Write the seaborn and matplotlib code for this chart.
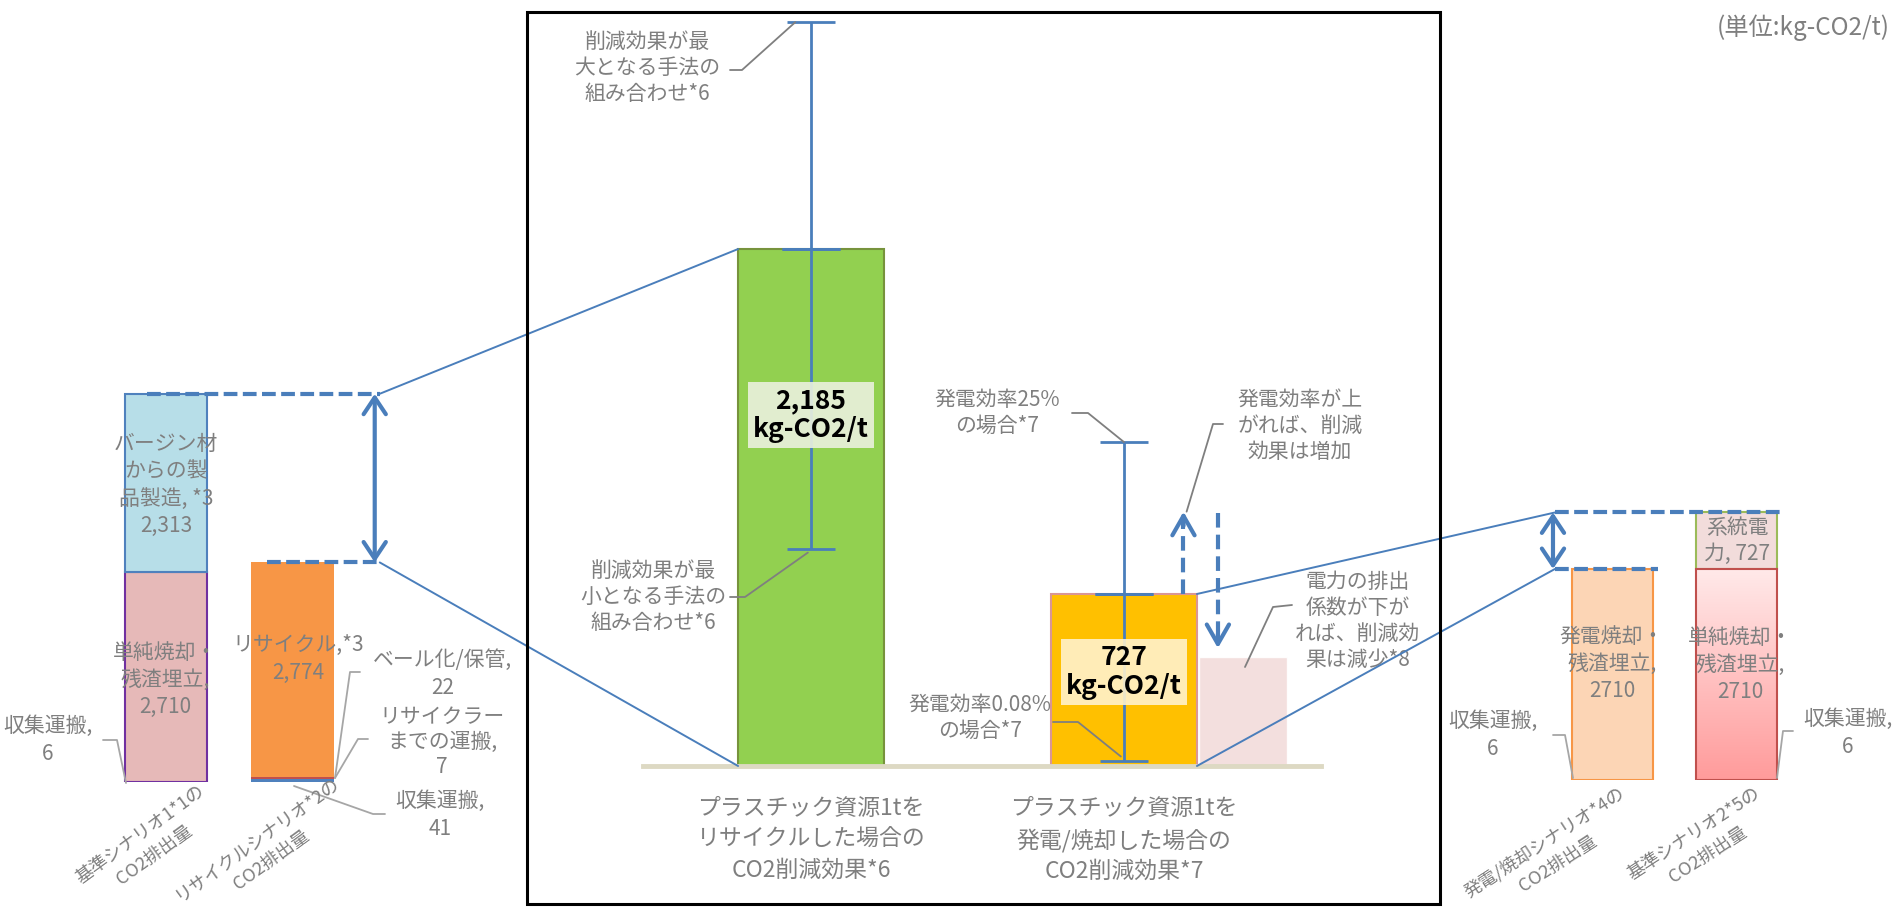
import numpy as np
import matplotlib
matplotlib.use("Agg")
import matplotlib.pyplot as plt
import seaborn as sns
from matplotlib.patches import ConnectionPatch, Rectangle
from matplotlib.colors import LinearSegmentedColormap

# ---------------- data (kg-CO2/t) ----------------
left_cats = ["基準シナリオ1*1の\nCO2排出量", "リサイクルシナリオ*2の\nCO2排出量"]
# stacked segments, bottom -> top
base1_seg = [6, 2710, 2313]        # 収集運搬 / 単純焼却・残渣埋立 / バージン材からの製品製造
recycle_seg = [41, 7, 22, 2774]    # 収集運搬 / リサイクラーまでの運搬 / ベール化/保管 / リサイクル

right_cats = ["発電/焼却シナリオ*4の\nCO2排出量", "基準シナリオ2*5の\nCO2排出量"]
power_seg = [6, 2710]              # 収集運搬 / 発電焼却・残渣埋立
base2_seg = [6, 2710, 727]         # 収集運搬 / 単純焼却・残渣埋立 / 系統電力

center_cats = ["プラスチック資源1tを\nリサイクルした場合の\nCO2削減効果*6",
               "プラスチック資源1tを\n発電/焼却した場合の\nCO2削減効果*7"]
center_vals = [2185, 727]
center_lo = [917, 20]       # 削減効果が最小 / 発電効率0.08%
center_hi = [3144, 1369]    # 削減効果が最大 / 発電効率25%
ghost_val = 461             # 電力の排出係数が下がった場合
arrow_up_tip = 1075
arrow_down = [1069, 498]

BLUE = "#4a7ebb"
GRAY = "#7f7f7f"
LGRAY = "#a6a6a6"

W, H = 1901, 923
sns.set_theme(style="white")
plt.rcParams["font.family"] = ["Noto Sans CJK JP", "DejaVu Sans"]

fig = plt.figure(figsize=(W / 100, H / 100), dpi=100)


def px_axes(x0, x1, ybase, ytop, c0, step, k):
    # axes placed in pixel units; c0 = pixel of category 0, step = px per category, k = px per unit
    ax = fig.add_axes([x0 / W, 1 - ybase / H, (x1 - x0) / W, (ybase - ytop) / H])
    ax.set_facecolor("none")
    return ax, ((x0 - c0) / step, (x1 - c0) / step), (0, (ybase - ytop) / k)


axL, xlimL, ylimL = px_axes(0, 527, 782, 12, 166, 126.5, 0.0772)
axC, xlimC, ylimC = px_axes(643, 1321, 766, 12, 811, 313, 0.2366)
axR, xlimR, ylimR = px_axes(1441, 1901, 780, 12, 1612.5, 124, 0.0777)


def stack(ax, cats, i, segs, faces, edges, lws, width=0.65):
    bottom = 0
    for v, fc, ec, lw in zip(segs, faces, edges, lws):
        sns.barplot(x=[cats[i]], y=[v], order=cats, bottom=bottom, color=fc,
                    saturation=1, edgecolor=ec, linewidth=lw, width=width,
                    errorbar=None, ax=ax)
        bottom += v
    return ax.patches[-len(segs):]


# left scenarios
stack(axL, left_cats, 0, base1_seg, ["#4f81bd", "#e6b9b8", "#b7dee8"],
      ["#7030a0", "#7030a0", "#4f81bd"], [1.5, 1.5, 1.5])
stack(axL, left_cats, 1, recycle_seg, ["#4f81bd", "#c0504d", "#c0504d", "#f79646"],
      ["#4f81bd", "#c0504d", "#c0504d", "#f79646"], [0, 0, 0, 0])

# right scenarios
stack(axR, right_cats, 0, power_seg, ["#f79646", "#fcd5b5"], ["#f79646", "#f79646"], [1.5, 1.5])
b4 = stack(axR, right_cats, 1, base2_seg, ["#c0504d", "#ffcccc", "#f2dcdb"],
           ["#c0504d", "#c0504d", "#9bbb59"], [1.5, 1.5, 1.5])
p = b4[1]
cmap = LinearSegmentedColormap.from_list("pinkfade", ["#ff9b9b", "#ffe9e9"])
im = axR.imshow(np.linspace(0, 1, 256).reshape(-1, 1), origin="lower", aspect="auto", cmap=cmap,
                extent=[p.get_x(), p.get_x() + p.get_width(), p.get_y(), p.get_y() + p.get_height()],
                zorder=p.get_zorder() + 0.05)
im.set_clip_path(p)
p.set_facecolor("none")
p.set_zorder(p.get_zorder() + 0.1)

# center: reduction effects
sns.barplot(x=center_cats, y=center_vals, hue=center_cats, palette=["#92d050", "#ffc000"],
            saturation=1, legend=False, width=0.466, errorbar=None, ax=axC)
for patch, ec in zip(axC.patches, ["#77933c", "#d99694"]):
    patch.set_edgecolor(ec)
    patch.set_linewidth(1.5)
axC.bar(1.38, ghost_val, width=0.281, color="#f2dcdb", alpha=0.9, zorder=0.8)

for i, (v, lo, hi) in enumerate(zip(center_vals, center_lo, center_hi)):
    axC.errorbar(i, v, yerr=[[v - lo], [hi - v]], fmt="none", ecolor=BLUE,
                 elinewidth=2, capsize=17, capthick=2, zorder=3)
    axC.errorbar(i, v, yerr=[[0], [0]], fmt="none", ecolor=BLUE, capsize=21, capthick=2, zorder=3)

# dashed arrows next to the power-generation bar
axC.plot([1.19, 1.19], [center_vals[1], arrow_up_tip - 40], ls=(0, (3.5, 1.7)), lw=3, color=BLUE)
axC.annotate("", xy=(1.19, arrow_up_tip), xytext=(1.19, arrow_up_tip - 60),
             arrowprops=dict(arrowstyle="->,head_length=0.7,head_width=0.4", color=BLUE, lw=3,
                             mutation_scale=20, shrinkA=0, shrinkB=0))
axC.plot([1.30, 1.30], [arrow_down[0], arrow_down[1] + 40], ls=(0, (3.5, 1.7)), lw=3, color=BLUE)
axC.annotate("", xy=(1.30, arrow_down[1]), xytext=(1.30, arrow_down[1] + 60),
             arrowprops=dict(arrowstyle="->,head_length=0.7,head_width=0.4", color=BLUE, lw=3,
                             mutation_scale=20, shrinkA=0, shrinkB=0))

# dashed level lines and double arrows
tot1, tot2 = sum(base1_seg), sum(recycle_seg)
tot3, tot4 = sum(power_seg), sum(base2_seg)
dash = (0, (3.3, 1.3))
axL.plot([-0.15, 1.69], [tot1, tot1], ls=dash, lw=3, color=BLUE, clip_on=False)
axL.plot([0.80, 1.69], [tot2, tot2], ls=dash, lw=3, color=BLUE, clip_on=False)
axL.annotate("", xy=(1.65, tot2), xytext=(1.65, tot1),
             arrowprops=dict(arrowstyle="<->,head_length=0.6,head_width=0.4", color=BLUE, lw=3,
                             mutation_scale=20, shrinkA=0, shrinkB=0))
axR.plot([-0.464, 1.37], [tot4, tot4], ls=dash, lw=3, color=BLUE, clip_on=False)
axR.plot([-0.464, 0.37], [tot3, tot3], ls=dash, lw=3, color=BLUE, clip_on=False)
axR.annotate("", xy=(-0.48, tot3), xytext=(-0.48, tot4),
             arrowprops=dict(arrowstyle="<->,head_length=0.6,head_width=0.4", color=BLUE, lw=3,
                             mutation_scale=20, shrinkA=0, shrinkB=0))

# axes cosmetics
for ax, xl, yl in [(axL, xlimL, ylimL), (axC, xlimC, ylimC), (axR, xlimR, ylimR)]:
    ax.set_xlim(*xl)
    ax.set_ylim(*yl)
    ax.set_xlabel("")
    ax.set_ylabel("")
    ax.set_yticks([])
    for s in ax.spines.values():
        s.set_visible(False)
axL.set_xticks([])
axR.set_xticks([])
axC.spines["bottom"].set_visible(True)
axC.spines["bottom"].set_color("#ddd9c3")
axC.spines["bottom"].set_linewidth(3.5)
axC.set_xticks([0, 1], center_cats)
axC.tick_params(axis="x", length=0, pad=22, labelsize=16.5, labelcolor=GRAY)
for t in axC.get_xticklabels():
    t.set_linespacing(1.45)

# connectors between the panels
for axA, xyA, axB, xyB in [
    (axL, (1.69, tot1), axC, (-0.233, center_vals[0])),
    (axL, (1.69, tot2), axC, (-0.233, 0)),
    (axC, (1.233, center_vals[1]), axR, (-0.464, tot4)),
    (axC, (1.233, 0), axR, (-0.464, tot3)),
]:
    fig.add_artist(ConnectionPatch(xyA=xyA, coordsA=axA.transData, xyB=xyB, coordsB=axB.transData,
                                   color=BLUE, lw=1.4))

fig.add_artist(Rectangle((527 / W, 1 - 904 / H), 913 / W, 892 / H, transform=fig.transFigure,
                         fill=False, ec="black", lw=2.2))

# overlay in pixel coordinates for labels and leader lines
ov = fig.add_axes([0, 0, 1, 1])
ov.set_xlim(0, W)
ov.set_ylim(H, 0)
ov.axis("off")
ov.patch.set_alpha(0)


def to_px(ax, x, y):
    px, py = ax.transData.transform((x, y))
    return px, H - py


def note(x, y, s, color=GRAY, size=15, ls=1.15, **kw):
    ov.text(x, y, s, ha="center", va="center", color=color, fontsize=size, linespacing=ls, **kw)


def leader(pts, color=GRAY, lw=1.3):
    xs, ys = zip(*pts)
    ov.plot(xs, ys, color=color, lw=lw)


ov.text(1890, 28, "(単位:kg-CO2/t)", ha="right", va="center", fontsize=17.5, color=GRAY)

# center annotations
note(647, 68, "削減効果が最\n大となる手法の\n組み合わせ*6", ls=1.25)
leader([(730, 70), (742, 70), to_px(axC, -0.05, center_hi[0])])
note(653, 597, "削減効果が最\n小となる手法の\n組み合わせ*6", ls=1.25)
leader([(730, 597), (745, 597), to_px(axC, -0.01, center_lo[0] - 15)])
note(997, 413, "発電効率25%\nの場合*7", ls=1.25)
leader([(1072, 413), (1088, 413), to_px(axC, 1, center_hi[1])])
note(980, 718, "発電効率0.08%\nの場合*7", ls=1.25)
leader([(1053, 722), (1078, 722), to_px(axC, 0.99, center_lo[1] + 20)])
note(1300, 426, "発電効率が上\nがれば、削減\n効果は増加", ls=1.25)
leader([(1223, 424), (1213, 424), to_px(axC, 1.20, arrow_up_tip)])
note(1358, 621, "電力の排出\n係数が下が\nれば、削減効\n果は減少*8", ls=1.25)
leader([(1292, 605), (1273, 607), (1245, 667)])

for i, (v, bg, y) in enumerate(zip(center_vals, ["#ebf1de", "#fff2cc"], [415, 672])):
    x, _ = to_px(axC, i, 0)
    ov.text(x, y, f"{v:,}\nkg-CO2/t", ha="center", va="center", fontsize=19, fontweight="bold",
            color="black", linespacing=1.05,
            bbox=dict(boxstyle="square,pad=0.2", fc=bg, ec="none", alpha=0.9))

# left segment labels
note(166, 485, "バージン材\nからの製\n品製造, *3\n2,313", ls=1.3)
note(165, 680, "単純焼却・\n残渣埋立,\n2,710", ls=1.3)
note(48, 740, "収集運搬,\n6", ls=1.3)
leader([(103, 740), (117, 740), (126, 783)], color=LGRAY)
note(298, 659, "リサイクル,*3\n2,774", ls=1.3)
note(443, 674, "ベール化/保管,\n22", ls=1.3)
leader([(360, 672), (350, 672), (335, 778)], color=LGRAY)
note(442, 742, "リサイクラー\nまでの運搬,\n7", ls=1.2)
leader([(368, 739), (358, 739), (335, 778)], color=LGRAY)
note(440, 815, "収集運搬,\n41", ls=1.3)
leader([(385, 814), (373, 814), (294, 786)], color=LGRAY)

# right segment labels
note(1737, 541, "系統電\n力, 727", ls=1.2)
note(1612, 664, "発電焼却・\n残渣埋立,\n2710", ls=1.3)
note(1740, 665, "単純焼却・\n残渣埋立,\n2710", ls=1.3)
note(1493, 735, "収集運搬,\n6", ls=1.3)
leader([(1553, 735), (1565, 735), (1573, 778)], color=LGRAY)
note(1848, 733, "収集運搬,\n6", ls=1.3)
leader([(1793, 731), (1783, 731), (1777, 778)], color=LGRAY)

# rotated scenario labels: each line drawn on its own so it stays inside the frame
renderer = fig.canvas.get_renderer()
LAB_FS = 13
for s, (x, y), rot in zip(left_cats + right_cats,
                          [(197, 782), (332, 774), (1618, 784), (1754, 784)],
                          [36, 36, 33, 33]):
    first, second = s.split("\n")
    tmp = ov.text(0, 0, first, fontsize=LAB_FS)
    w = tmp.get_window_extent(renderer).width
    tmp.remove()
    th = np.deg2rad(rot)
    cx, cy = x - w / 2 * np.cos(th), y + w / 2 * np.sin(th)
    ov.text(x, y, first, rotation=rot, rotation_mode="anchor", ha="right", va="top",
            fontsize=LAB_FS, color=GRAY)
    d = 25
    ov.text(cx + d * np.sin(th), cy + d * np.cos(th), second, rotation=rot, rotation_mode="anchor",
            ha="center", va="top", fontsize=LAB_FS, color=GRAY)

fig.savefig("out.png", dpi=100)
